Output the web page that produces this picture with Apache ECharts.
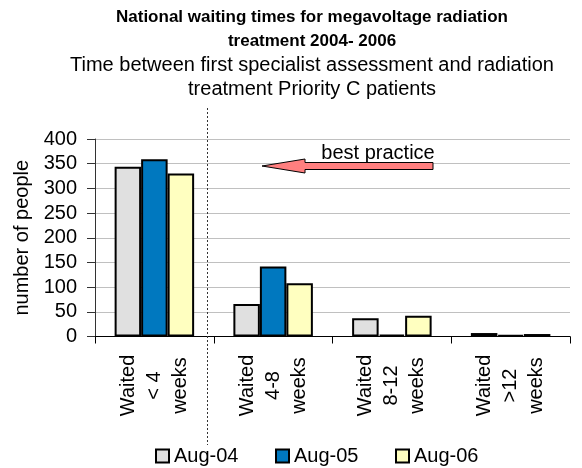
<!DOCTYPE html>
<html><head><meta charset="utf-8">
<script src="https://cdn.jsdelivr.net/npm/echarts@6/dist/echarts.min.js"></script>
<style>html,body{margin:0;padding:0;background:#fff}#c{width:582px;height:468px}</style>
</head><body><div id="c"></div>
<script>
const categories = ['Waited\n< 4\nweeks', 'Waited\n4-8\nweeks', 'Waited\n8-12\nweeks', 'Waited\n>12\nweeks'];
const seriesNames = ['Aug-04', 'Aug-05', 'Aug-06'];
const aug04 = [344, 66, 37, 7];
const aug05 = [359, 142, 4, 3];
const aug06 = [330, 108, 42, 5];
const yMin = 0, yMax = 400, yStep = 50;
const titleText = 'National waiting times for megavoltage radiation\ntreatment 2004- 2006';
const subText = 'Time between first specialist assessment and radiation\ntreatment Priority C patients';
const annotationText = 'best practice';
const yName = 'number of people';

const FONT = "'Liberation Sans', Arial, sans-serif";
const colors = ['#e0e0e0', '#0078bf', '#ffffc0'];
const seriesData = [aug04, aug05, aug06];
const legendLefts = [150, 270, 390];

const chart = echarts.init(document.getElementById('c'), null, {renderer: 'canvas'});
chart.setOption({
  animation: false,
  backgroundColor: '#ffffff',
  textStyle: {fontFamily: FONT},
  title: {
    text: titleText,
    subtext: subText,
    left: 307, top: 0, textAlign: 'center', itemGap: 0,
    textStyle: {fontFamily: FONT, fontSize: 17, fontWeight: 'bold', color: '#000', lineHeight: 24},
    subtextStyle: {fontFamily: FONT, fontSize: 20, color: '#000', lineHeight: 24}
  },
  legend: seriesNames.map((n, i) => ({
    data: [n],
    left: legendLefts[i], top: 441,
    itemWidth: 13, itemHeight: 13, itemGap: 0,
    icon: 'rect',
    textStyle: {fontFamily: FONT, fontSize: 20, color: '#000', padding: [0, 0, 0, 0]},
    itemStyle: {borderColor: '#000', borderWidth: 2}
  })),
  grid: {left: 95, right: 12, top: 139, bottom: 131.5, containLabel: false},
  xAxis: {
    type: 'category', data: categories, boundaryGap: true,
    axisLine: {lineStyle: {color: '#000', width: 1}},
    axisTick: {show: true, alignWithLabel: false, length: 7, lineStyle: {color: '#000'}},
    axisLabel: {rotate: 90, align: 'center', verticalAlign: 'middle', margin: 49, fontFamily: FONT, fontSize: 20, color: '#000', lineHeight: 26, interval: 0}
  },
  yAxis: {
    type: 'value', min: yMin, max: yMax, interval: yStep,
    name: yName, nameLocation: 'middle', nameRotate: 90, nameGap: 49,
    nameTextStyle: {fontFamily: FONT, fontSize: 20, color: '#000'},
    axisLine: {show: true, lineStyle: {color: '#333', width: 1}},
    axisTick: {show: true, inside: false, length: 8, lineStyle: {color: '#333'}},
    axisLabel: {margin: 18, fontFamily: FONT, fontSize: 20, color: '#000'},
    splitLine: {show: true, lineStyle: {color: '#c0c0c0', width: 1}}
  },
  series: seriesNames.map((n, i) => ({
    name: n, type: 'bar', data: seriesData[i],
    barWidth: 26.5, barGap: '0%',
    itemStyle: {color: colors[i], borderColor: '#000', borderWidth: 2}
  })),
  graphic: [
    {type: 'line', z: 100, shape: {x1: 207.5, y1: 108, x2: 207.5, y2: 445},
     style: {stroke: '#333', lineWidth: 1, lineDash: [2, 2]}},
    {type: 'polygon', z: 100,
     shape: {points: [[262, 166], [305, 159], [305, 162.5], [433, 162.5], [433, 169.5], [305, 169.5], [305, 173]]},
     style: {fill: '#ff7f7f', stroke: '#000', lineWidth: 1}},
    {type: 'text', z: 100, x: 378, y: 153,
     style: {text: annotationText, fontFamily: FONT, fontSize: 20, fill: '#000', align: 'center', verticalAlign: 'middle'}}
  ]
});
</script></body></html>
